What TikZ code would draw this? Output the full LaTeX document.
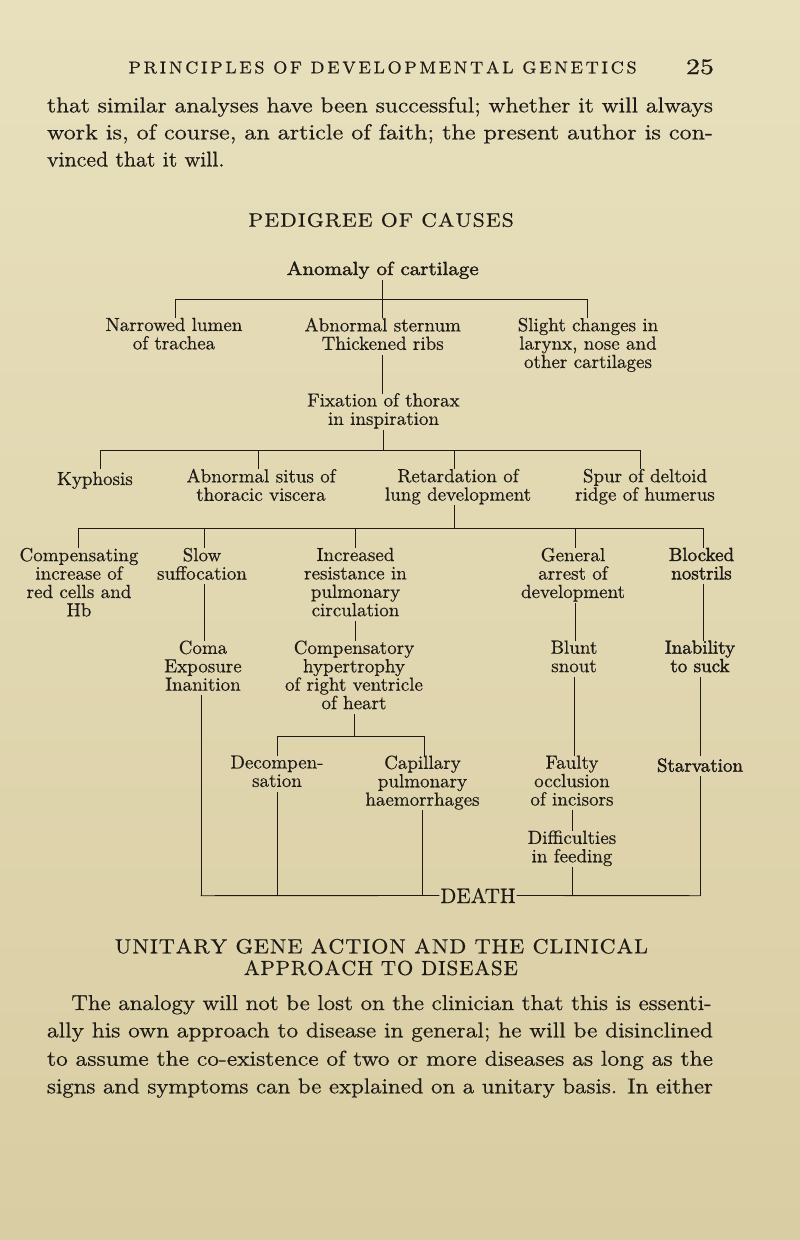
\documentclass[tikz,border=0pt]{standalone}
\usepackage{fontspec}
\setmainfont{lmroman10-regular.otf}[BoldFont=lmroman10-bold.otf,ItalicFont=lmroman10-italic.otf]
\usepackage{graphicx}
\definecolor{paper}{RGB}{232,224,189}
\definecolor{paperlow}{RGB}{217,205,163}
\definecolor{ink}{RGB}{30,26,22}
\makeatletter
\newsavebox\fitbox
\newcommand\fitto[2]{\sbox\fitbox{#2}\dimen@=\wd\fitbox\edef\fit@r{\fpeval{#1/\strip@pt\dimen@}}\scalebox{\fit@r}[1]{\usebox\fitbox}}
\newcommand\lsw[1]{\@tfor\ls@x:=#1\do{\ls@x\hskip\lsgap}\unskip}
\makeatother
\newcommand\lsgap{0.1em}
\newcommand\lsp{\hskip\lsgap\ }
\newcommand\heavy{\addfontfeatures{FakeBold=0.4}}
\newcommand\bodyfont{\fontsize{21.5pt}{27.6pt}\selectfont\heavy}
\newcommand\dfont{\fontsize{19pt}{18.4pt}\selectfont\addfontfeatures{FakeBold=0.4}}
\newcommand\bfk{\addfontfeatures{FakeBold=1.6}}
\newcommand\tp{\rule{0pt}{16.2pt}}
\newcommand\bt{\rule[-5.2pt]{0pt}{5.2pt}}
\tikzset{
  txt/.style={inner sep=0pt, outer sep=0pt, anchor=base west, text=ink},
  lbl/.style={font=\dfont, align=center, inner sep=0pt, outer sep=0pt, anchor=north, text=ink,
    execute at begin node=\tp, execute at end node=\bt},
  conn/.style={draw=ink, line width=0.9pt, line cap=rect},
}
\begin{document}
\begin{tikzpicture}[x=1pt,y=-1pt]
\shade[top color=paper, bottom color=paperlow] (0,0) rectangle (800,1240);
\useasboundingbox (0,0) rectangle (800,1240);

% running head and text above
\node[txt] (run) at (128.6,73.3) {\fitto{508}{\fontsize{17pt}{20pt}\selectfont\heavy\renewcommand\lsgap{0.15em}\lsw{PRINCIPLES}\lsp\lsw{OF}\lsp\lsw{DEVELOPMENTAL}\lsp\lsw{GENETICS}}};
\node[txt] (folio) at (686,74) {\fitto{28}{\fontsize{22pt}{24pt}\selectfont\addfontfeatures{FakeBold=0.8} 25}};
\node[txt] (p1) at (47,112.3) {\fitto{666}{\bodyfont that similar analyses have been successful; whether it will always}};
\node[txt] (p2) at (47,139.3) {\fitto{666}{\bodyfont work is, of course, an article of faith; the present author is con-}};
\node[txt] (p3) at (47,166.5) {\fitto{177.5}{\bodyfont vinced that it will.}};
\node[txt] (title) at (248.5,226.7) {\fitto{265.3}{\fontsize{19.5pt}{22pt}\selectfont\heavy\renewcommand\lsgap{0.05em}\lsw{PEDIGREE}\lsp\lsw{OF}\lsp\lsw{CAUSES}}};

% diagram nodes
\node[lbl] (anom) at (382.7,258.8) {\fitto{192}{\bfk Anomaly of cartilage}};
\node[lbl] (narrow) at (174,317.8) {Narrowed lumen\\of trachea};
\node[lbl] (stern) at (382.7,317.8) {Abnormal sternum\\Thickened ribs};
\node[lbl] (slight) at (588,317.8) {Slight changes in\\larynx, nose and\\other cartilages};
\node[lbl] (fix) at (383.5,393.1) {Fixation of thorax\\in inspiration};
\node[lbl] (kyph) at (95,468.8) {Kyphosis};
\node[lbl] (situs) at (261,468.8) {Abnormal situs of\\thoracic viscera};
\node[lbl] (retard) at (458,468.8) {Retardation of\\lung development};
\node[lbl] (spur) at (645,468.8) {Spur of deltoid\\ridge of humerus};
\node[lbl] (comp) at (79,547.8) {Compensating\\increase of\\red cells and\\Hb};
\node[lbl] (slow) at (202,547.8) {Slow\\suffocation};
\node[lbl] (incr) at (355.5,547.8) {Increased\\resistance in\\pulmonary\\circulation};
\node[lbl] (gen) at (573,547.8) {General\\arrest of\\development};
\node[lbl, font=\dfont\bfk] (block) at (701.5,547.8) {Blocked\\nostrils};
\node[lbl] (coma) at (203,640.5) {Coma\\Exposure\\Inanition};
\node[lbl] (cmpt) at (354,640.5) {Compensatory\\hypertrophy\\of right ventricle\\of heart};
\node[lbl] (blunt) at (574,640.5) {Blunt\\snout};
\node[lbl, font=\dfont\bfk] (inab) at (700,640.5) {Inability\\to suck};
\node[lbl] (decomp) at (277,755.5) {Decompen-\\sation};
\node[lbl] (capil) at (422.5,755.5) {Capillary\\pulmonary\\haemorrhages};
\node[lbl] (faulty) at (572,755.5) {Faulty\\occlusion\\of incisors};
\node[lbl, font=\dfont\bfk] (starv) at (700,755.5) {Starvation};
\node[lbl] (diff) at (572,830.5) {Difficulties\\in feeding};
\node[txt, anchor=base, inner xsep=1.5pt] (death) at (478,903) {\fontsize{21pt}{24pt}\selectfont\heavy DEATH};

% junction coordinates
\coordinate (b1L) at (175,299.3);
\coordinate (b1R) at (587.8,299.3);
\coordinate (b2L) at (100.5,450.7);
\coordinate (b2R) at (640,450.7);
\coordinate (t2s) at (258.7,450.7);
\coordinate (t2r) at (454,450.7);
\coordinate (b3L) at (78,528.3);
\coordinate (b3R) at (703,528.3);
\coordinate (t3s) at (204,528.3);
\coordinate (t3i) at (355.5,528.3);
\coordinate (t3g) at (575,528.3);
\coordinate (b4L) at (277,736);
\coordinate (b4R) at (424.5,736);
\coordinate (dL) at (201,895.7);
\coordinate (dR) at (700,895.7);

% connectors
\draw[conn] (anom.south) -- (anom.south |- b1L);
\draw[conn] (b1L) -- (b1R);
\draw[conn] (b1L) -- (b1L |- narrow.north);
\draw[conn] (anom.south |- b1L) -- (stern.north);
\draw[conn] (b1R) -- (b1R |- slight.north);
\draw[conn] (stern.south) -- (stern.south |- fix.north);
\draw[conn] (fix.south) -- (fix.south |- b2L);
\draw[conn] (b2L) -- (b2R);
\draw[conn] (b2L) -- (b2L |- kyph.north);
\draw[conn] (t2s) -- (t2s |- situs.north);
\draw[conn] (t2r) -- (t2r |- retard.north);
\draw[conn] (b2R) -- (b2R |- spur.north);
\draw[conn] (t2r |- retard.south) -- (t2r |- b3L);
\draw[conn] (b3L) -- (b3R);
\draw[conn] (b3L) -- (b3L |- comp.north);
\draw[conn] (t3s) -- (t3s |- slow.north);
\draw[conn] (t3i) -- (t3i |- incr.north);
\draw[conn] (t3g) -- (t3g |- gen.north);
\draw[conn] (b3R) -- (b3R |- block.north);
\draw[conn] (t3s |- slow.south) -- (t3s |- coma.north);
\draw[conn] (incr.south) -- (incr.south |- cmpt.north);
\draw[conn] (t3g |- gen.south) -- (t3g |- blunt.north);
\draw[conn] (b3R |- block.south) -- (b3R |- inab.north);
\draw[conn] (cmpt.south) -- (cmpt.south |- b4L);
\draw[conn] (b4L) -- (b4R);
\draw[conn] (b4L) -- (b4L |- decomp.north);
\draw[conn] (b4R) -- (b4R |- capil.north);
\draw[conn] (blunt.south) -- (blunt.south |- faulty.north);
\draw[conn] (inab.south) -- (inab.south |- starv.north);
\draw[conn] (faulty.south) -- (faulty.south |- diff.north);
\draw[conn] (dL |- coma.south) -- (dL);
\draw[conn] (decomp.south) -- (decomp.south |- dL);
\draw[conn] (capil.south) -- (capil.south |- dL);
\draw[conn] (diff.south) -- (diff.south |- dL);
\draw[conn] (starv.south) -- (dR);
\draw[conn] (dL) -- (death.west);
\draw[conn] (death.east) -- (dR);

% text below
\node[txt] (sec1) at (114.8,953.3) {\fitto{533.2}{\fontsize{20.5pt}{22pt}\selectfont\heavy\renewcommand\lsgap{0.04em}\lsw{UNITARY}\lsp\lsw{GENE}\lsp\lsw{ACTION}\lsp\lsw{AND}\lsp\lsw{THE}\lsp\lsw{CLINICAL}}};
\node[txt] (sec2) at (243.9,975) {\fitto{274}{\fontsize{20.5pt}{22pt}\selectfont\heavy\renewcommand\lsgap{0.04em}\lsw{APPROACH}\lsp\lsw{TO}\lsp\lsw{DISEASE}}};
\node[txt] (q1) at (71.4,1010) {\fitto{640.3}{\bodyfont The analogy will not be lost on the clinician that this is essenti-}};
\node[txt] (q2) at (47,1037.3) {\fitto{666}{\bodyfont ally his own approach to disease in general; he will be disinclined}};
\node[txt] (q3) at (47,1065.7) {\fitto{666}{\bodyfont to assume the co-existence of two or more diseases as long as the}};
\node[txt] (q4) at (47,1093.3) {\fitto{666}{\bodyfont signs and symptoms can be explained on a unitary basis. In either}};
\end{tikzpicture}
\end{document}
